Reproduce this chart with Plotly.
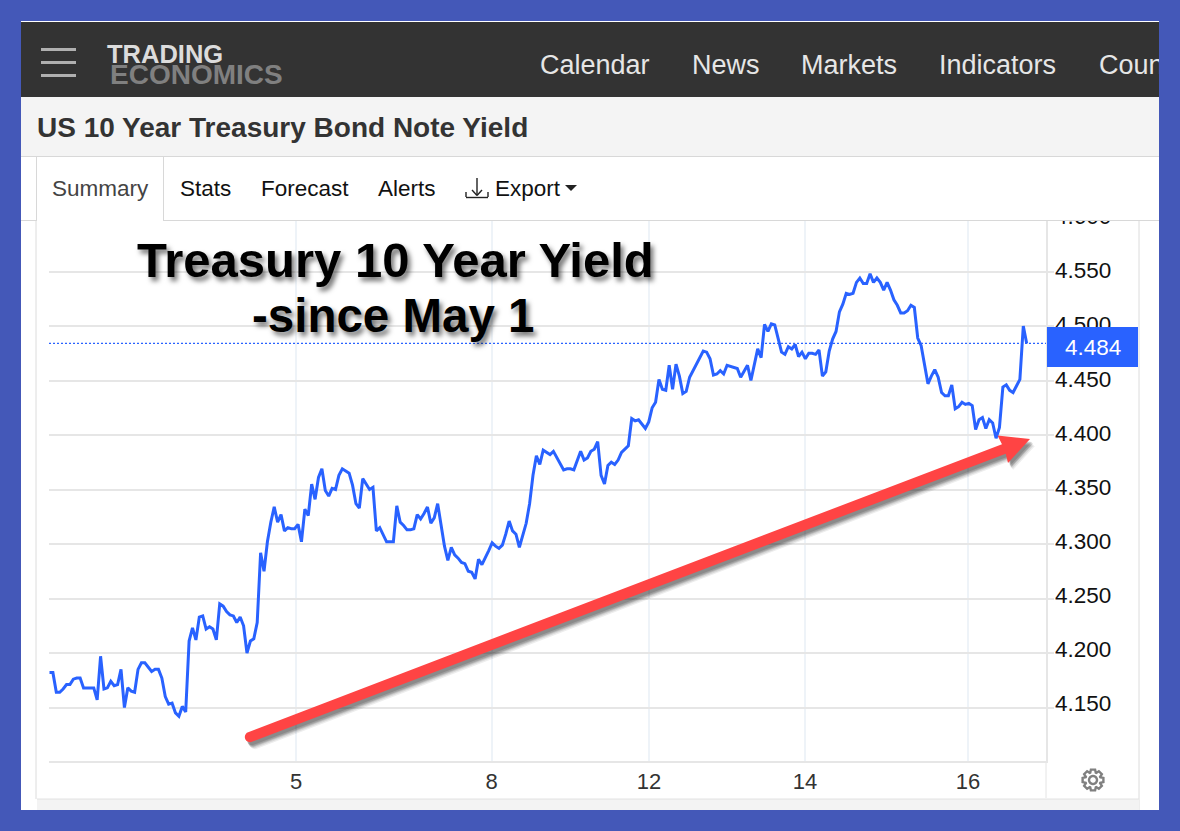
import numpy as np
import plotly.graph_objects as go

# ---------- data ----------
yields = [
 4.182,4.182,4.164,4.164,4.167,4.171,4.171,4.176,4.177,4.177,4.168,4.168,4.168,4.168,4.157,4.197,4.167,4.168,4.174,4.170,
 4.171,4.185,4.150,4.168,4.165,4.164,4.185,4.191,4.191,4.187,4.183,4.185,4.185,4.177,4.160,4.153,4.154,4.145,4.142,4.151,
 4.146,4.211,4.223,4.212,4.233,4.234,4.222,4.224,4.222,4.212,4.245,4.243,4.238,4.235,4.234,4.228,4.233,4.225,4.200,4.211,
 4.213,4.228,4.292,4.275,4.302,4.320,4.334,4.320,4.327,4.312,4.315,4.314,4.314,4.318,4.302,4.332,4.326,4.355,4.341,4.361,
 4.369,4.349,4.344,4.351,4.350,4.363,4.369,4.367,4.365,4.354,4.337,4.333,
 4.360,4.355,4.350,4.352,4.312,4.315,4.309,4.302,4.302,4.302,4.335,4.320,4.317,4.313,4.313,4.314,4.327,4.323,4.328,4.334,
 4.319,4.324,4.337,4.318,4.298,4.285,4.297,4.290,4.287,4.283,4.282,4.275,4.274,4.268,4.286,4.281,4.287,4.294,4.301,4.298,
 4.296,4.299,4.309,4.321,4.312,4.309,4.297,4.307,4.319,4.337,4.363,4.381,4.373,4.386,4.384,4.382,4.385,4.379,4.374,4.368,
 4.369,4.369,4.368,4.377,4.385,4.377,4.379,4.385,4.387,4.394,4.363,4.355,4.372,4.375,4.373,4.377,4.384,4.387,4.390,4.415,
 4.413,4.414,4.410,4.406,4.412,4.425,4.430,4.451,4.442,4.441,4.464,4.442,4.465,4.454,4.438,4.440,4.453,
 4.459,4.465,4.471,4.477,4.476,4.470,4.455,4.456,4.459,4.456,4.464,4.463,4.462,4.461,4.453,4.458,4.464,4.450,4.465,4.479,
 4.471,4.5015,4.495,4.502,4.501,4.488,4.476,4.474,4.481,4.479,4.483,4.472,4.476,4.470,4.475,4.475,4.474,4.478,4.454,4.458,
 4.477,4.488,4.495,4.513,4.520,4.530,4.529,4.530,4.540,4.544,4.539,4.539,4.548,4.540,4.544,4.540,4.533,4.540,4.533,4.524,
 4.519,4.512,4.512,4.514,4.519,4.517,4.489,4.482,4.465,4.447,4.454,4.460,4.453,4.439,4.436,4.436,4.446,4.424,4.426,4.430,
 4.428,4.429,4.427,4.405,4.414,4.416,4.406,4.414,4.411,4.397,4.407,4.444,4.446,4.441,4.439,4.445,4.451,4.500,4.484,
]
samples = list(range(len(yields)))
last_price = 4.484
y_ticks = [4.15, 4.20, 4.25, 4.30, 4.35, 4.40, 4.45, 4.50, 4.55, 4.60]
y_labels = ["4.150", "4.200", "4.250", "4.300", "4.350", "4.400", "4.450", "4.500", "4.550", "4.600"]
x_tick_px = [296, 491.5, 649, 805, 968]   # where the labelled sessions sit on screen
x_labels = ["5", "8", "12", "14", "16"]
nav_items = [("Calendar", 540), ("News", 692), ("Markets", 801), ("Indicators", 939), ("Coun", 1098.5)]
tab_items = [("Stats", 179.5), ("Forecast", 261), ("Alerts", 378), ("Export", 495)]

# ---------- layout helpers ----------
W, H = 1180, 831
FONT = "Liberation Sans"
BLUE = "#2962ff"
GRID = "#e6e6e6"
VGRID = "#eef3f8"
BORDER = "#4458b8"
def X(p): return p / W
def Y(p): return 1 - p / H

PX_L, PX_R, PY_T, PY_B = 49.0, 1046.0, 205.0, 760.5
FIRST_PX, LAST_PX = 49.5, 1026.7
dx = (LAST_PX - FIRST_PX) / (len(yields) - 1)
x_range = [(PX_L - FIRST_PX) / dx, (PX_R - FIRST_PX) / dx]
x_ticks = [(p - FIRST_PX) / dx for p in x_tick_px]
val = lambda py: 4.55 - (py - 271.5) / 1090.0
y_range = [val(PY_B), val(PY_T)]
# tick labels in the source sit slightly above their gridlines, increasingly so lower down
lab = lambda py: 4.55 - (py - 270.5) / 1082.5
y2_range = [lab(PY_B), lab(PY_T)]

shapes, annos = [], []
def rect(x0, y0, x1, y1, fill, layer="above", opacity=None):
    s = dict(type="rect", xref="paper", yref="paper", x0=X(x0), x1=X(x1), y0=Y(y0), y1=Y(y1),
             fillcolor=fill, line=dict(width=0), layer=layer)
    if opacity is not None:
        s["opacity"] = opacity
    shapes.append(s)
def line(x0, y0, x1, y1, color, width=1, layer="above"):
    shapes.append(dict(type="line", xref="paper", yref="paper", x0=X(x0), x1=X(x1), y0=Y(y0), y1=Y(y1),
                       line=dict(color=color, width=width), layer=layer))
def poly(points, fill, opacity=None, stroke=None, sw=0, layer="above"):
    d = "M " + " L ".join(f"{X(a):.5f},{Y(b):.5f}" for a, b in points) + " Z"
    s = dict(type="path", xref="paper", yref="paper", path=d, fillcolor=fill,
             line=dict(width=sw, color=stroke or fill), layer=layer)
    if opacity is not None:
        s["opacity"] = opacity
    shapes.append(s)
def text(t, x, y, size, color, anchor="left", bold=False, shadow=None):
    f = dict(family=FONT, size=size, color=color, weight="bold" if bold else "normal")
    if shadow:
        f["shadow"] = shadow
    annos.append(dict(text=t, x=X(x), y=Y(y), xref="paper", yref="paper", xanchor=anchor, yanchor="middle",
                      showarrow=False, font=f, borderpad=0, borderwidth=0))

# page chrome, below the plot
rect(21, 21, 1159, 810, "#ffffff", layer="below")
line(36, 221, 36, 799, "#dcdcdc", 1, layer="below")
line(1139, 221, 1139, 810, "#dcdcdc", 1, layer="below")
line(1046, 761, 1046, 798, "#e4e4e4", 1, layer="below")
rect(37, 799, 1139, 810, "#f3f3f3", layer="below")
line(37, 799, 1139, 799, "#e2e2e2", 1, layer="below")

# last-price line
shapes.append(dict(type="line", xref="paper", yref="y", x0=X(PX_L), x1=X(PX_R), y0=last_price, y1=last_price,
                   line=dict(color=BLUE, width=1.3, dash="2px,2px"), layer="above"))

# top bars
rect(21, 22, 1159, 97, "#333333")
rect(21, 97, 1159, 156, "#f4f4f4")
rect(21, 157, 1159, 220, "#ffffff")
line(21, 21.5, 1159, 21.5, "#ffffff", 1)
line(21, 156.5, 1159, 156.5, "#d8d8d8", 1)
line(21, 220.5, 36, 220.5, "#d8d8d8", 1)
line(163, 220.5, 1159, 220.5, "#d8d8d8", 1)
line(36.5, 157, 36.5, 221, "#d8d8d8", 1)
line(163.5, 157, 163.5, 221, "#d8d8d8", 1)
for yy in (49.5, 62.5, 75.5):
    line(41, yy, 76, yy, "#b0b0b0", 3)

# download icon
line(477, 178, 477, 195, "#222222", 1.4)
line(472, 190, 477, 195.5, "#222222", 1.4)
line(482, 190, 477, 195.5, "#222222", 1.4)
line(466, 192, 466, 197, "#222222", 1.4)
line(466, 197.5, 488, 197.5, "#222222", 1.4)
line(488, 192, 488, 197, "#222222", 1.4)
poly([(565, 185), (577, 185), (571, 191)], "#222222")

# price tag
rect(1047, 327, 1138, 367, BLUE)

# gear
cx, cy = 1093, 780
teeth = 8
pts = []
for k in range(teeth):
    a = 2 * np.pi * k / teeth
    for da, r in [(-0.36, 7.8), (-0.2, 10.6), (0.2, 10.6), (0.36, 7.8)]:
        pts.append((cx + r * np.cos(a + da), cy + r * np.sin(a + da)))
poly(pts, "rgba(0,0,0,0)", stroke="#808080", sw=2.4)
hole = [(cx + 4 * np.cos(t), cy + 4 * np.sin(t)) for t in np.linspace(0, 2 * np.pi, 24, endpoint=False)]
poly(hole, "rgba(0,0,0,0)", stroke="#808080", sw=2.4)

# big red arrow: offset soft copies give the drop shadow
A0 = np.array([250.0, 737.0])
TIP = np.array([1030.0, 439.0])
H1 = np.array([997.5, 435.5])
H2 = np.array([1008.0, 463.0])
u = (TIP - A0) / np.linalg.norm(TIP - A0)
n = np.array([-u[1], u[0]])
neck = TIP - u * 28
half = 5.2
outline = [neck + half * n, H2, TIP, H1, neck - half * n] + [A0 + half * (-np.cos(t) * n - np.sin(t) * u) for t in np.linspace(0, np.pi, 12)]
for ox, oy, op in [(5, 7, 0.07), (4, 6, 0.09), (3, 5, 0.12), (3, 4, 0.14), (2, 3, 0.14)]:
    poly([(p[0] + ox, p[1] + oy) for p in outline], "#000000", opacity=op)
poly(outline, "#ff4444")

# texts
text("TRADING", 107, 54, 25.5, "#dcdcdc", bold=True)
text("ECONOMICS", 110, 75, 28, "#808080", bold=True)
for t, x in nav_items:
    text(t, x, 65.5, 27, "#e6e6e6")
# clip the nav item that runs into the page border
annos.append(dict(text=" ", x=X(1159), y=Y(65), xref="paper", yref="paper", xanchor="left", yanchor="middle",
                  showarrow=False, width=12, height=40, bgcolor=BORDER, borderpad=0, borderwidth=0))
text("US 10 Year Treasury Bond Note Yield", 37, 127, 28, "#333333", bold=True)
text("Summary", 52, 188, 22.5, "#444444")
for t, x in tab_items:
    text(t, x, 188, 22.5, "#111111")
SH = "3px 4px 5px rgba(0,0,0,0.55)"
text("Treasury 10 Year Yield", 395.5, 260, 49, "#000000", anchor="center", bold=True, shadow=SH)
text("-since May 1", 393, 316, 47.5, "#000000", anchor="center", bold=True, shadow=SH)
text("4.484", 1092.5, 347, 22.5, "#ffffff", anchor="center")

fig = go.Figure()
fig.add_trace(go.Scatter(x=samples, y=yields, mode="lines", line=dict(color=BLUE, width=3), hoverinfo="skip"))
fig.add_trace(go.Scatter(x=samples[:1], y=[None], yaxis="y2", mode="lines", hoverinfo="skip"))
fig.update_layout(
    width=W, height=H, autosize=False, margin=dict(l=0, r=0, t=0, b=0),
    paper_bgcolor=BORDER, plot_bgcolor="rgba(0,0,0,0)", showlegend=False,
    shapes=shapes, annotations=annos, font=dict(family=FONT),
    xaxis=dict(domain=[X(PX_L), X(PX_R)], range=x_range, tickmode="array", tickvals=x_ticks, ticktext=x_labels,
               showgrid=True, gridcolor=VGRID, gridwidth=2, showline=True, linecolor=GRID, linewidth=2,
               zeroline=False, ticks="", ticklabelstandoff=0, tickfont=dict(family=FONT, size=22, color="#333333"),
               fixedrange=True),
    yaxis=dict(domain=[Y(PY_B), Y(PY_T)], range=y_range, side="right", tickmode="array", tickvals=y_ticks,
               showticklabels=False, showgrid=True, gridcolor=GRID, gridwidth=2, showline=True, linecolor=GRID,
               linewidth=2, zeroline=False, ticks="outside", ticklen=6, tickcolor=GRID, tickwidth=2, fixedrange=True),
    yaxis2=dict(overlaying="y", anchor="x", side="right", range=y2_range, tickmode="array", tickvals=y_ticks,
                ticktext=y_labels, showgrid=False, showline=False, zeroline=False, ticks="", ticklabelstandoff=8,
                tickfont=dict(family=FONT, size=22.5, color="#111111"), fixedrange=True),
)
fig.write_html("out.html", config=dict(displayModeBar=False),
               post_script="document.body.style.margin='0';document.body.style.overflow='hidden';")
